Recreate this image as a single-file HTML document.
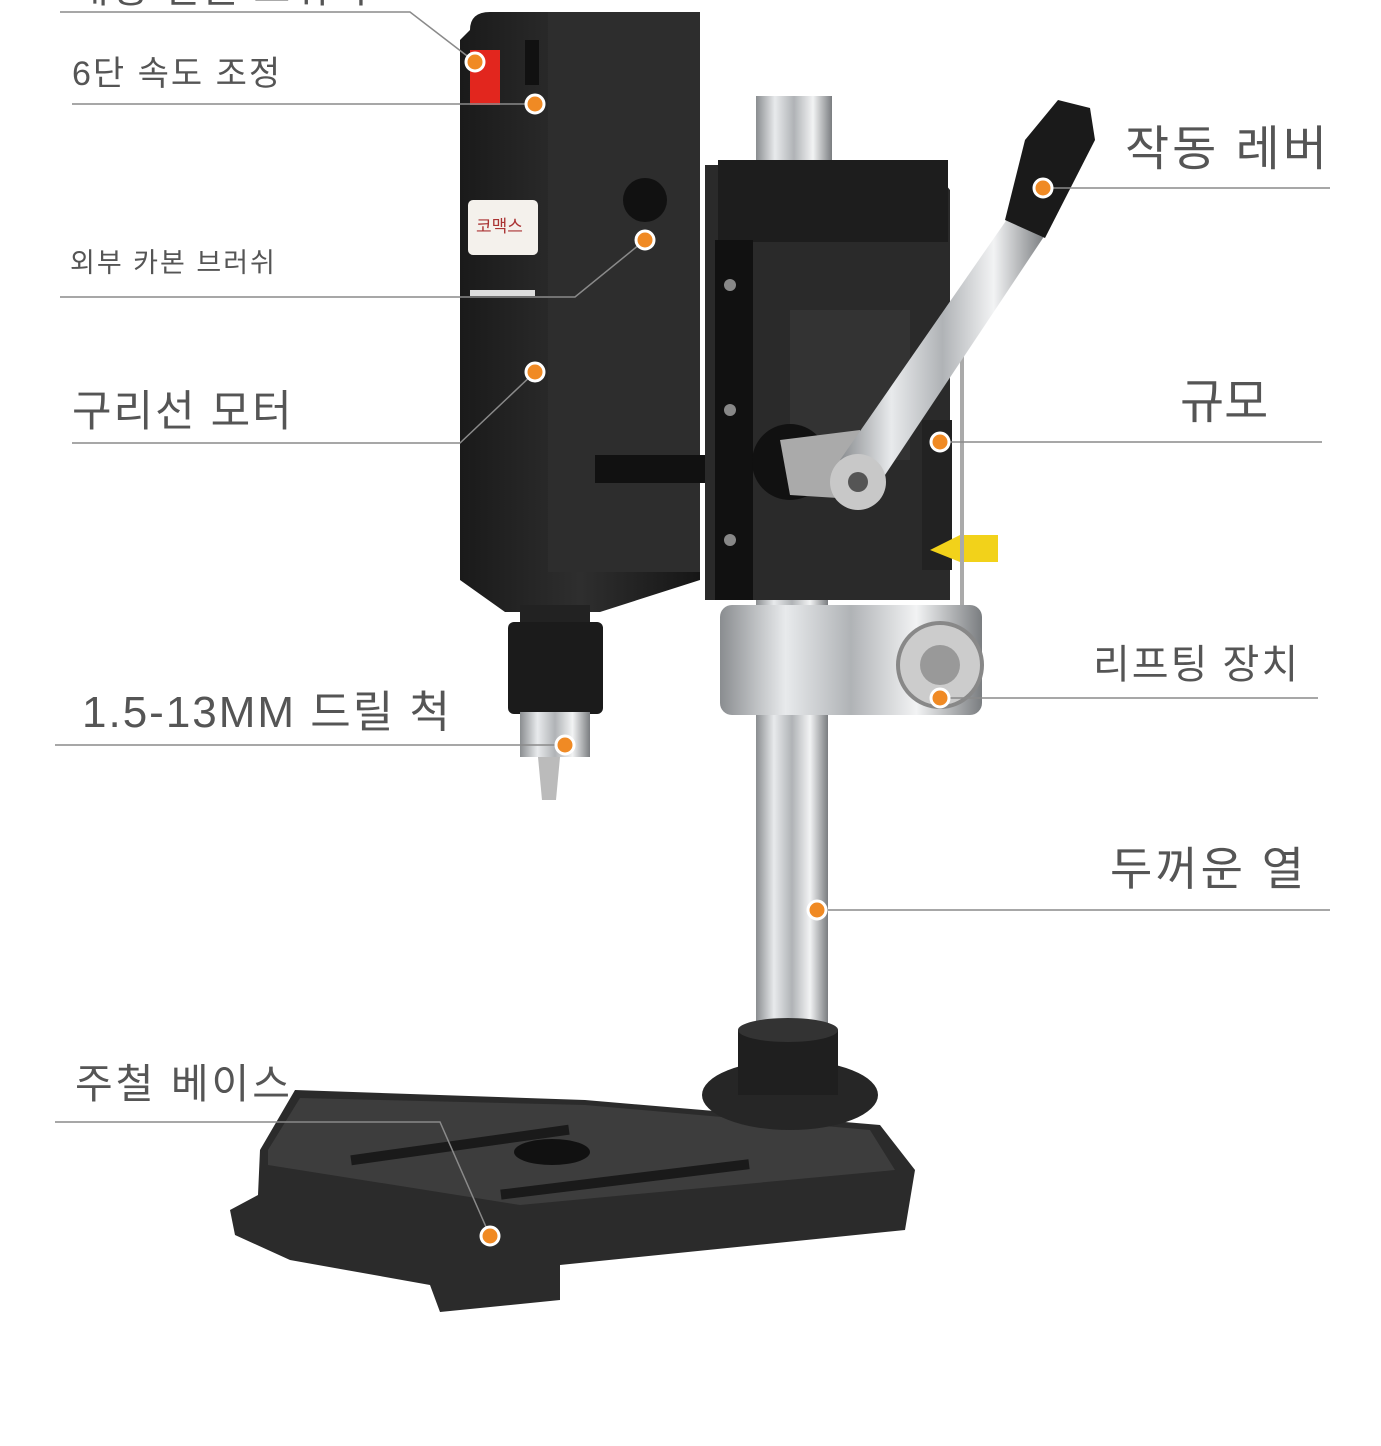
<!DOCTYPE html>
<html><head><meta charset="utf-8"><style>
html,body{margin:0;padding:0;background:#fff;}
svg{display:block;}
text{font-family:"Liberation Sans","Noto Sans CJK KR",sans-serif;fill:#555;}
</style></head><body>
<svg width="1381" height="1446" viewBox="0 0 1381 1446" xmlns="http://www.w3.org/2000/svg">
<defs>
<linearGradient id="chrome" x1="0" x2="1" y1="0" y2="0">
<stop offset="0" stop-color="#8a8d90"/><stop offset="0.25" stop-color="#e8eaec"/><stop offset="0.5" stop-color="#b0b3b6"/><stop offset="0.75" stop-color="#f2f3f4"/><stop offset="1" stop-color="#7a7d80"/></linearGradient>
<linearGradient id="blk" x1="0" x2="1"><stop offset="0" stop-color="#1a1a1a"/><stop offset="0.5" stop-color="#2e2e2e"/><stop offset="1" stop-color="#161616"/></linearGradient>
</defs>
<rect x="756" y="96" width="76" height="70" fill="url(#chrome)"/>
<rect x="756" y="600" width="72" height="450" fill="url(#chrome)"/>
<polygon points="260,1150 295,1090 585,1100 880,1125 915,1170 905,1230 560,1265 560,1300 440,1312 430,1285 290,1260 235,1235 230,1210 258,1195" fill="#2b2b2b"/>
<polygon points="268,1150 300,1098 585,1105 870,1130 895,1170 520,1205 268,1165" fill="#3d3d3d"/>
<rect x="350" y="1140" width="220" height="10" fill="#1a1a1a" transform="rotate(-8 460 1145)"/>
<rect x="500" y="1175" width="250" height="10" fill="#1a1a1a" transform="rotate(-7 620 1180)"/>
<ellipse cx="552" cy="1152" rx="38" ry="13" fill="#111"/>
<ellipse cx="790" cy="1095" rx="88" ry="35" fill="#262626"/>
<rect x="738" y="1030" width="100" height="65" fill="#1f1f1f"/>
<ellipse cx="788" cy="1030" rx="50" ry="12" fill="#333"/>
<polygon points="705,165 930,165 950,190 950,600 705,600" fill="#2a2a2a"/>
<rect x="718" y="160" width="230" height="82" fill="#1d1d1d"/>
<rect x="715" y="240" width="38" height="360" fill="#111"/>
<rect x="790" y="310" width="120" height="150" fill="#333"/>
<circle cx="730" cy="285" r="6" fill="#888"/><circle cx="730" cy="410" r="6" fill="#888"/><circle cx="730" cy="540" r="6" fill="#888"/>
<rect x="922" y="420" width="30" height="150" fill="#222"/>
<polygon points="930,550 960,535 998,535 998,562 960,562" fill="#f2d21a"/>
<line x1="962" y1="350" x2="962" y2="610" stroke="#aaa" stroke-width="4"/>
<rect x="720" y="605" width="262" height="110" rx="12" fill="url(#chrome)"/>
<circle cx="940" cy="665" r="42" fill="#ccc" stroke="#888" stroke-width="4"/>
<circle cx="940" cy="665" r="20" fill="#999"/>
<circle cx="790" cy="462" r="38" fill="#111"/>
<polygon points="780,440 860,430 870,500 790,495" fill="#aaa"/>
<polygon points="840,460 1010,215 1045,235 875,490" fill="url(#chrome)"/>
<circle cx="858" cy="482" r="28" fill="#c8c8c8"/>
<circle cx="858" cy="482" r="10" fill="#555"/>
<polygon points="1005,220 1025,140 1058,100 1090,108 1095,140 1045,238" fill="#1a1a1a"/>
<path d="M470,30 Q470,12 490,12 L680,12 Q700,12 700,35 L700,580 L600,612 L505,612 L460,580 L460,40 Z" fill="url(#blk)"/>
<rect x="548" y="12" width="152" height="560" fill="#2d2d2d"/>
<rect x="470" y="50" width="30" height="55" fill="#e2261e"/>
<rect x="525" y="40" width="14" height="45" fill="#111"/>
<rect x="468" y="200" width="70" height="55" rx="5" fill="#f4f1ec"/>
<text x="476" y="232" font-size="17" style="fill:#a33">코맥스</text>
<rect x="470" y="290" width="65" height="6" fill="#ddd"/>
<circle cx="645" cy="200" r="22" fill="#111"/>
<rect x="595" y="455" width="110" height="28" fill="#111"/>
<rect x="520" y="605" width="70" height="20" fill="#222"/>
<rect x="508" y="622" width="95" height="92" rx="6" fill="#1b1b1b"/>
<rect x="520" y="712" width="70" height="45" fill="url(#chrome)"/>
<polygon points="538,757 560,757 556,800 542,800" fill="#bbb"/>
<g stroke="#8a8a8a" stroke-width="1.5" fill="none">
<polyline points="60,12 410,12 475,62"/>
<polyline points="72,104 535,104"/>
<polyline points="60,297 575,297 645,240"/>
<polyline points="72,443 460,443 535,372"/>
<polyline points="55,745 565,745"/>
<polyline points="55,1122 440,1122 490,1236"/>
<polyline points="1043,188 1330,188"/>
<polyline points="940,442 1322,442"/>
<polyline points="940,698 1318,698"/>
<polyline points="817,910 1330,910"/>
</g>
<g fill="#f08a24" stroke="#fff" stroke-width="3">
<circle cx="475" cy="62" r="9"/><circle cx="535" cy="104" r="9"/><circle cx="645" cy="240" r="9"/>
<circle cx="535" cy="372" r="9"/><circle cx="565" cy="745" r="9"/><circle cx="490" cy="1236" r="9"/>
<circle cx="1043" cy="188" r="9"/><circle cx="940" cy="442" r="9"/><circle cx="940" cy="698" r="9"/>
<circle cx="817" cy="910" r="9"/>
</g>
<text x="72" y="2" font-size="40" letter-spacing="2">대형 전원 스위치</text>
<text x="72" y="85" font-size="34" letter-spacing="2">6단 속도 조정</text>
<text x="70" y="272" font-size="27" letter-spacing="2">외부 카본 브러쉬</text>
<text x="72" y="426" font-size="43" letter-spacing="2">구리선 모터</text>
<text x="82" y="727" font-size="44" letter-spacing="2">1.5-13MM 드릴 척</text>
<text x="75" y="1098" font-size="41" letter-spacing="3">주철 베이스</text>
<text x="1125" y="165" font-size="48" letter-spacing="3">작동 레버</text>
<text x="1180" y="418" font-size="48">규모</text>
<text x="1093" y="678" font-size="40" letter-spacing="2">리프팅 장치</text>
<text x="1110" y="885" font-size="46" letter-spacing="3">두꺼운 열</text>
</svg>
</body></html>
